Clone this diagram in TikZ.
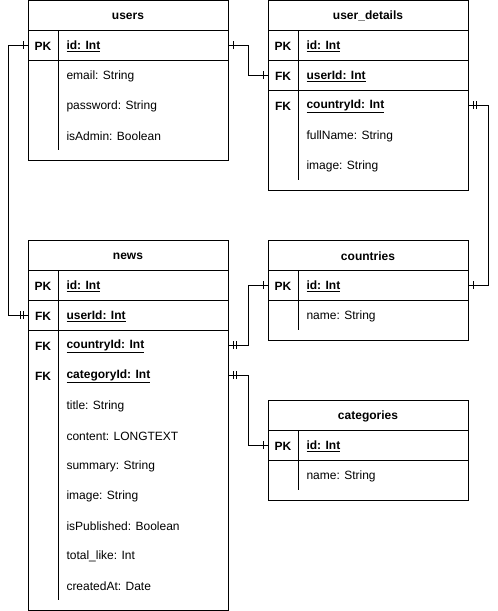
\documentclass[tikz,border=0pt]{standalone}
\usepackage{fontspec}
\setmainfont{Liberation Sans}
\usetikzlibrary{decorations.markings}
\tikzset{
  x=1pt, y=-1pt,
  every path/.style={line width=1pt},
  tbl/.style={draw, rectangle, minimum width=200pt, inner sep=0pt, outer sep=0pt, anchor=north west},
  rowbox/.style={rectangle, minimum width=200pt, minimum height=30pt, inner sep=0pt, outer sep=0pt},
  title/.style={font=\fontsize{12}{14}\selectfont\bfseries, inner sep=0pt, yshift=-1pt},
  keytext/.style={font=\fontsize{12}{14}\selectfont\bfseries, inner sep=0pt, yshift=-1pt},
  fieldtext/.style={font=\fontsize{12}{14}\selectfont, anchor=west, inner sep=0pt, yshift=-1pt},
  keyfield/.style={font=\fontsize{12}{14}\selectfont\bfseries, anchor=west, inner sep=0pt, yshift=-1pt},
  startone/.style={postaction={decorate, decoration={markings,
      mark=at position 5pt with {\draw[line width=1pt] (0,-4pt) -- (0,4pt);}}}},
  starttwo/.style={postaction={decorate, decoration={markings,
      mark=at position 5pt with {\draw[line width=1pt] (0,-4pt) -- (0,4pt);},
      mark=at position 8pt with {\draw[line width=1pt] (0,-4pt) -- (0,4pt);}}}},
  endone/.style={postaction={decorate, decoration={markings,
      mark=at position -5pt with {\draw[line width=1pt] (0,-4pt) -- (0,4pt);}}}},
  endtwo/.style={postaction={decorate, decoration={markings,
      mark=at position -8pt with {\draw[line width=1pt] (0,-4pt) -- (0,4pt);},
      mark=at position -5pt with {\draw[line width=1pt] (0,-4pt) -- (0,4pt);}}}},
}
\begin{document}
\begin{tikzpicture}
\useasboundingbox (0,0) rectangle (498,611);

% ---------------- users ----------------
\node[tbl, minimum height=160pt] (users) at (28,0) {};
\node[title] (users-t) at (128,15) {users};
\draw (28,30) -- (228,30);
\draw (28,60) -- (228,60);
\draw (58,30) -- (58,150);
\node[rowbox] (users-id) at (128,45) {};
\node[keytext] (users-pk) at (43,45) {PK};
\node[keyfield] (users-idt) at (66,45) {\underline{id: Int}};
\node[fieldtext] (users-email) at (66,75) {email: String};
\node[fieldtext] (users-pw) at (66,105) {password: String};
\node[fieldtext] (users-adm) at (66,135) {isAdmin: Boolean};

% ---------------- user_details ----------------
\node[tbl, minimum height=190pt] (ud) at (268,0) {};
\node[title] (ud-t) at (368,15) {user\_details};
\draw (268,30) -- (468,30);
\draw (268,60) -- (468,60);
\draw (268,90) -- (468,90);
\draw (298,30) -- (298,180);
\node[rowbox] (ud-id) at (368,45) {};
\node[rowbox] (ud-userId) at (368,75) {};
\node[rowbox] (ud-countryId) at (368,105) {};
\node[keytext] (ud-pk) at (283,45) {PK};
\node[keytext] (ud-fk1) at (283,75) {FK};
\node[keytext] (ud-fk2) at (283,105) {FK};
\node[keyfield] (ud-idt) at (306,45) {\underline{id: Int}};
\node[keyfield] (ud-uidt) at (306,75) {\underline{userId: Int}};
\node[keyfield] (ud-cidt) at (306,105) {\underline{countryId: Int}};
\node[fieldtext] (ud-fn) at (306,135) {fullName: String};
\node[fieldtext] (ud-img) at (306,165) {image: String};

% ---------------- news ----------------
\node[tbl, minimum height=370pt] (news) at (28,240) {};
\node[title] (news-t) at (128,255) {news};
\draw (28,270) -- (228,270);
\draw (28,300) -- (228,300);
\draw (28,330) -- (228,330);
\draw (58,270) -- (58,600);
\node[rowbox] (news-id) at (128,285) {};
\node[rowbox] (news-userId) at (128,315) {};
\node[rowbox] (news-countryId) at (128,345) {};
\node[rowbox] (news-categoryId) at (128,375) {};
\node[keytext] (news-pk) at (43,285) {PK};
\node[keytext] (news-fk1) at (43,315) {FK};
\node[keytext] (news-fk2) at (43,345) {FK};
\node[keytext] (news-fk3) at (43,375) {FK};
\node[keyfield] (news-idt) at (66,285) {\underline{id: Int}};
\node[keyfield] (news-uidt) at (66,315) {\underline{userId: Int}};
\node[keyfield] (news-cidt) at (66,345) {\underline{countryId: Int}};
\node[keyfield] (news-catt) at (66,375) {\underline{categoryId: Int}};
\node[fieldtext] (news-title) at (66,405) {title: String};
\node[fieldtext] (news-content) at (66,435) {content: LONGTEXT};
\node[fieldtext] (news-summary) at (66,465) {summary: String};
\node[fieldtext] (news-image) at (66,495) {image: String};
\node[fieldtext] (news-pub) at (66,525) {isPublished: Boolean};
\node[fieldtext] (news-like) at (66,555) {total\_like: Int};
\node[fieldtext] (news-created) at (66,585) {createdAt: Date};

% ---------------- countries ----------------
\node[tbl, minimum height=100pt] (countries) at (268,240) {};
\node[title] (countries-t) at (368,255) {countries};
\draw (268,270) -- (468,270);
\draw (268,300) -- (468,300);
\draw (298,270) -- (298,330);
\node[rowbox] (countries-id) at (368,285) {};
\node[keytext] (countries-pk) at (283,285) {PK};
\node[keyfield] (countries-idt) at (306,285) {\underline{id: Int}};
\node[fieldtext] (countries-name) at (306,315) {name: String};

% ---------------- categories ----------------
\node[tbl, minimum height=100pt] (categories) at (268,400) {};
\node[title] (categories-t) at (368,415) {categories};
\draw (268,430) -- (468,430);
\draw (268,460) -- (468,460);
\draw (298,430) -- (298,490);
\node[rowbox] (categories-id) at (368,445) {};
\node[keytext] (categories-pk) at (283,445) {PK};
\node[keyfield] (categories-idt) at (306,445) {\underline{id: Int}};
\node[fieldtext] (categories-name) at (306,475) {name: String};

% ---------------- connectors ----------------
\draw[startone, endtwo] (users-id.west) -- ++(-20,0) |- (news-userId.west);
\draw[startone, endone] (users-id.east) -- ++(20,0) |- (ud-userId.west);
\draw[starttwo, endone] (ud-countryId.east) -- ++(20,0) |- (countries-id.east);
\draw[starttwo, endone] (news-countryId.east) -- ++(20,0) |- (countries-id.west);
\draw[starttwo, endone] (news-categoryId.east) -- ++(20,0) |- (categories-id.west);
\end{tikzpicture}
\end{document}
